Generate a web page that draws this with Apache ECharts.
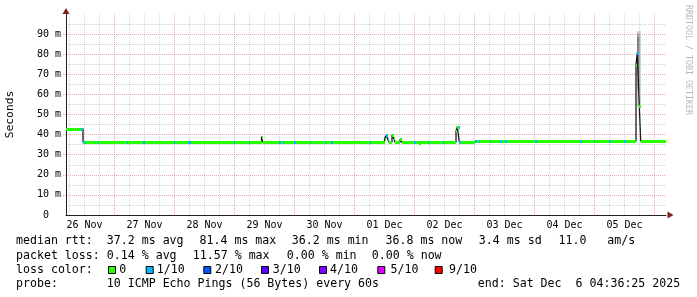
<!DOCTYPE html>
<html><head><meta charset="utf-8">
<script src="https://cdn.jsdelivr.net/npm/echarts@6/dist/echarts.min.js"></script>
<style>html,body{margin:0;padding:0;background:#fff}#c{width:697px;height:297px}</style>
</head><body><div id="c"></div>
<script>
// ================= DATA =================
// time axis unit: hours since 26 Nov 00:00
const timeStart = 4.607;   // 26 Nov 04:36:25
const timeEnd = 244.607;   // 06 Dec 04:36:25
const dayLabels = ['26 Nov','27 Nov','28 Nov','29 Nov','30 Nov','01 Dec','02 Dec','03 Dec','04 Dec','05 Dec'];
const yLabelValues = [0,10,20,30,40,50,60,70,80,90];

// median rtt (ms), step series: value holds from its time until the next time
const medianTimes  = [4.607, 11.41, 82.81, 83.29, 132.01, 132.61, 133.21, 133.81, 135.01, 135.61, 136.21, 138.21, 138.81, 145.81, 146.61, 160.61, 161.13, 161.93, 168.21, 232.61, 233.13, 233.93, 234.49, 244.607];
const medianValues = [42.8, 36.3, 39.0, 36.3, 37.8, 39.6, 38.0, 36.3, 39.8, 38.5, 36.3, 37.6, 36.3, 35.8, 36.3, 41.6, 44.0, 36.3, 36.8, 74.6, 80.8, 54.2, 36.8, 36.8];

// packet loss (tenths) intervals, loss 0 elsewhere
const lossStart = [10.61, 12.01, 17.21, 28.81, 35.21, 47.61, 53.21, 71.61, 77.61, 89.81, 91.41, 95.81, 102.21, 108.01, 110.61, 126.01, 132.61, 143.81, 149.21, 155.41, 161.61, 168.21, 169.61, 174.01, 178.21, 180.21, 192.21, 210.21, 215.61, 221.61, 227.81, 233.13];
const lossEnd   = [11.81, 12.61, 17.81, 29.41, 36.01, 48.21, 54.61, 72.21, 78.21, 90.61, 91.81, 96.61, 102.61, 108.61, 111.21, 126.61, 133.81, 144.61, 149.81, 155.81, 162.41, 169.01, 170.21, 174.61, 178.81, 181.01, 193.01, 210.81, 216.21, 222.41, 228.61, 233.93];
const lossLevel = [1,1,1,1,1,1,1,1,1,1,1,1,1,1,1,1,1,1,1,1,1,1,1,1,1,1,1,1,1,1,1,1];

// smoke (ping spread) ranges, shade rank 1 = outer .. 3 = inner
const smokeStart = [233.13, 233.13, 233.13];
const smokeEnd   = [234.41, 234.10, 233.93];
const smokeLow   = [54.0, 62.0, 70.0];
const smokeHigh  = [91.5, 90.5, 88.5];
const smokeShade = [1, 2, 3];

const lossLegendLevels = [0, 1, 2, 3, 4, 5, 9];
const lossLegendLabels = ['0', '1/10', '2/10', '3/10', '4/10', '5/10', '9/10'];

const statRows = [
  [['median rtt:'], ['37.2 ms avg'], ['81.4 ms max'], ['36.2 ms min'], ['36.8 ms now'], ['3.4 ms sd'], ['11.0'], ['am/s']],
  [['packet loss:'], ['0.14 % avg'], ['11.57 % max'], ['0.00 % min'], ['0.00 % now']],
  [['probe:'], ['10 ICMP Echo Pings (56 Bytes) every 60s'], ['end: Sat Dec  6 04:36:25 2025']]
];
const lossLegendTitle = 'loss color:';
const yAxisTitle = 'Seconds';
const watermark = 'RRDTOOL / TOBI OETIKER';

// ================= STYLE =================
const lossColor = {0:'#26ff00', 1:'#00b8ff', 2:'#0059ff', 3:'#5e00ff', 4:'#7e00ff', 5:'#dd00ff', 9:'#ff0000'};
const smokeColor = {1:'#d2d2d2', 2:'#ababab', 3:'#858585'};
const GRID = 'rgba(150,150,150,0.42)';
const MGRID = 'rgba(225,80,80,0.48)';
const AXIS = '#1f1f1f';
const ARROW = '#801f1f';
const MONO = 'DejaVu Sans Mono';

// ================= DERIVED =================
const midnights = []; for (let d = 1; d <= 10; d++) midnights.push(24 * d);
const sixHours = []; for (let h = 6; h < timeEnd; h += 6) if (h % 24 !== 0 && h > timeStart) sixHours.push(h);
const noons = dayLabels.map((_, i) => 24 * i + 12);
const yMajor = [10,20,30,40,50,60,70,80,90];
const yMinor = [5,15,25,35,45,55,65,75,85,95];

const bandData = [];
for (let i = 0; i < medianTimes.length - 1; i++) {
  const a = medianTimes[i], b = medianTimes[i + 1], v = medianValues[i];
  const cuts = [a, b];
  lossStart.forEach((s, k) => { [s, lossEnd[k]].forEach(c => { if (c > a && c < b) cuts.push(c); }); });
  cuts.sort((p, q) => p - q);
  for (let j = 0; j < cuts.length - 1; j++) {
    const m = (cuts[j] + cuts[j + 1]) / 2;
    let lvl = 0;
    lossStart.forEach((s, k) => { if (m >= s && m < lossEnd[k]) lvl = lossLevel[k]; });
    bandData.push([cuts[j], cuts[j + 1], v, lvl]);
  }
}
const smokeData = smokeStart.map((s, i) => [s, smokeEnd[i], smokeLow[i], smokeHigh[i], smokeShade[i]]);
const medianData = medianTimes.map((t, i) => [t, medianValues[i]]);

// ================= GRAPHICS (text) =================
const txt = (x, y, text, extra) => Object.assign({ type: 'text', x: x, y: y, silent: true,
  style: Object.assign({ text: text, font: '11.6px "' + MONO + '"', fill: '#000', align: 'left', verticalAlign: 'middle' }, extra || {}) });
const rowY = [241, 255.7, 284.2];
const rowX = [
  [16, 106.8, 199.5, 291.8, 385.5, 478.8, 558.5, 607.2],
  [16, 106.8, 192.8, 286.8, 371.8],
  [16, 106.8, 477.8]
];
const graphics = [];
statRows.forEach((row, r) => row.forEach((p, i) => graphics.push(txt(rowX[r][i], rowY[r], p[0]))));
const legendY = 270;
graphics.push(txt(16, legendY, lossLegendTitle));
const boxX = [108, 145.7, 203.3, 261, 319, 377.3, 434.7];
const labX = [119.3, 156.7, 215, 272.7, 330, 390.5, 449];
lossLegendLevels.forEach((lv, i) => {
  graphics.push({ type: 'rect', silent: true, shape: { x: boxX[i] + 0.5, y: legendY - 3.5, width: 7, height: 7 },
    style: { fill: lossColor[lv], stroke: '#000', lineWidth: 1 } });
  graphics.push(txt(labX[i], legendY, lossLegendLabels[i]));
});
graphics.push({ type: 'text', x: 688, y: 5, rotation: -Math.PI / 2, silent: true,
  style: { text: watermark, font: '8.3px "' + MONO + '"', fill: '#b8b8b8', align: 'left', verticalAlign: 'middle' } });

// ================= CHART =================
const chart = echarts.init(document.getElementById('c'), null, { renderer: 'canvas' });
const dotted = (c) => ({ color: c, width: 1, type: [1, 1] });
chart.setOption({
  animation: false,
  backgroundColor: '#fff',
  textStyle: { fontFamily: MONO },
  grid: { left: 66, right: 31, top: 14, bottom: 82, containLabel: false, outerBoundsMode: 'none' },
  xAxis: [
    { type: 'value', min: timeStart, max: timeEnd, position: 'bottom',
      axisLine: { show: true, onZero: false, lineStyle: { color: AXIS, width: 1 } },
      axisTick: { show: true, customValues: midnights, length: 2, lineStyle: dotted(MGRID) },
      axisLabel: { customValues: noons, formatter: v => dayLabels[Math.round((v - 12) / 24)], fontFamily: MONO, fontSize: 10, color: '#000', margin: 5.5 },
      splitLine: { show: true, lineStyle: dotted(MGRID) } },
    { type: 'value', min: timeStart, max: timeEnd, position: 'top',
      axisLine: { show: false, onZero: false }, axisLabel: { show: false },
      axisTick: { show: false, customValues: sixHours },
      splitLine: { show: true, lineStyle: dotted(GRID) } }
  ],
  yAxis: [
    { type: 'value', min: 0, max: 100, position: 'left',
      name: yAxisTitle, nameLocation: 'middle', nameGap: 50, nameRotate: 90,
      nameTextStyle: { fontFamily: MONO, fontSize: 11.3, color: '#000' },
      axisLine: { show: true, onZero: false, lineStyle: { color: AXIS, width: 1 } },
      axisTick: { show: true, customValues: yMajor, length: 3, lineStyle: dotted(MGRID) },
      axisLabel: { customValues: yLabelValues, formatter: v => v === 0 ? '0  ' : v + ' m', fontFamily: MONO, fontSize: 10, color: '#000', margin: 5 },
      splitLine: { show: true, lineStyle: dotted(MGRID) } },
    { type: 'value', min: 0, max: 100, position: 'right',
      axisLine: { show: false, onZero: false }, axisLabel: { show: false },
      axisTick: { show: false, customValues: yMinor },
      splitLine: { show: true, lineStyle: dotted(GRID) } }
  ],
  series: [
    { type: 'custom', name: 'smoke', xAxisIndex: 0, yAxisIndex: 0, clip: true, z: 2, silent: true,
      encode: { x: [0, 1], y: [2, 3] }, data: smokeData,
      renderItem: (params, api) => {
        const p1 = api.coord([api.value(0), api.value(3)]);
        const p2 = api.coord([api.value(1), api.value(2)]);
        const x1 = Math.round(p1[0]), x2 = Math.max(Math.round(p2[0]), x1 + 1);
        return { type: 'rect', shape: { x: x1, y: p1[1], width: x2 - x1, height: p2[1] - p1[1] },
          style: { fill: smokeColor[api.value(4)] } };
      } },
    { type: 'line', name: 'median', xAxisIndex: 0, yAxisIndex: 0, step: 'end', symbol: 'none', z: 3, silent: true,
      data: medianData, lineStyle: { color: '#1a1a1a', width: 1.3 }, clip: true,
      markPoint: { silent: true, label: { show: false }, data: [
        { coord: [timeStart, 100], symbol: 'triangle', symbolSize: [7, 6], symbolOffset: [0, -3], itemStyle: { color: ARROW } },
        { coord: [timeEnd, 0], symbol: 'triangle', symbolRotate: -90, symbolSize: [7, 6], symbolOffset: [4.5, 0], itemStyle: { color: ARROW } }
      ] } },
    { type: 'custom', name: 'loss', xAxisIndex: 0, yAxisIndex: 0, clip: true, z: 4, silent: true,
      encode: { x: [0, 1], y: 2 }, data: bandData,
      renderItem: (params, api) => {
        const p1 = api.coord([api.value(0), api.value(2)]);
        const p2 = api.coord([api.value(1), api.value(2)]);
        const x1 = Math.round(p1[0]), x2 = Math.max(Math.round(p2[0]), x1 + 1);
        const y = Math.round(p1[1]) - 1;
        return { type: 'rect', shape: { x: x1, y: y, width: x2 - x1, height: 3 },
          style: { fill: lossColor[api.value(3)] } };
      } }
  ],
  graphic: graphics
});
</script>
</body></html>
